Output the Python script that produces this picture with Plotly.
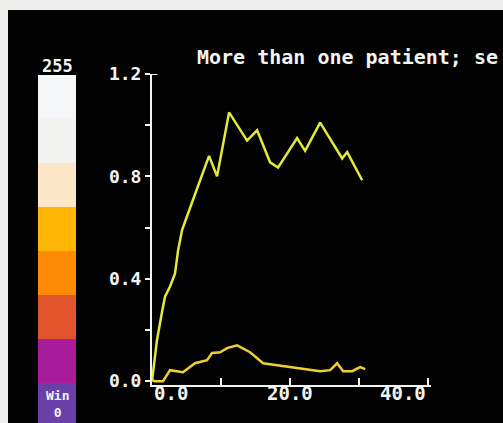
import plotly.graph_objects as go

W, H = 503, 423


def px(x):
    return x / W


def py(y):
    return 1 - y / H


# ---- data ----
upper_x = [0, 0.72, 1.45, 1.88, 2.61, 3.33, 3.77, 4.35, 6.23, 8.26, 9.42, 11.16,
           13.77, 15.22, 17.1, 18.26, 21.01, 22.17, 24.35, 27.54, 28.26, 30.43]
upper_y = [0.0, 0.16, 0.27, 0.33, 0.37, 0.42, 0.51, 0.59, 0.73, 0.88, 0.80, 1.05,
           0.94, 0.98, 0.855, 0.835, 0.95, 0.90, 1.01, 0.87, 0.895, 0.785]

lower_x = [0, 0.43, 1.59, 2.61, 4.49, 6.23, 7.97, 8.7, 9.86, 10.87, 12.32, 14.2,
           16.09, 18.12, 21.45, 24.35, 25.8, 26.81, 27.68, 28.99, 30.14, 30.87]
lower_y = [0.004, 0.0, 0.0, 0.043, 0.035, 0.07, 0.082, 0.11, 0.113, 0.129, 0.14, 0.113,
           0.07, 0.062, 0.05, 0.039, 0.043, 0.07, 0.039, 0.039, 0.055, 0.047]

y_tick_vals = [0, 0.2, 0.4, 0.6, 0.8, 1.0, 1.2]
y_tick_text = ["0.0", "", "0.4", "", "0.8", "", "1.2"]
x_tick_vals = [0, 10, 20, 30, 40]
x_label_vals = [0, 20, 40]
x_label_text = ["0.0", "20.0", "40.0"]

scale_colors = ["#6B3FA8", "#A81C9C", "#E2542C", "#FF8A06", "#FFB606",
                "#FCE6C8", "#F2F2F0", "#F4F6F8"]  # bottom -> top
scale_top_label = "255"
scale_bottom_label = "Win<br>0"
title_text = "More than one patient; se"

FONT = "DejaVu Sans Mono"
TXT = "#F2F4F2"
EDGE = "#EEEEEC"

fig = go.Figure()

fig.add_trace(go.Scatter(x=upper_x, y=upper_y, mode="lines",
                         line=dict(color="#E2EA3A", width=2.5), xaxis="x", yaxis="y"))
fig.add_trace(go.Scatter(x=lower_x, y=lower_y, mode="lines",
                         line=dict(color="#F0D030", width=2.5), xaxis="x", yaxis="y"))

bases = list(range(len(scale_colors)))
fig.add_trace(go.Bar(x=["cb"] * len(scale_colors), y=[1] * len(scale_colors), base=bases,
                     marker=dict(color=scale_colors, line=dict(width=0)), width=1,
                     xaxis="x2", yaxis="y2", hoverinfo="skip"))

annotations = [
    dict(text=f"<b>{title_text}</b>", x=px(195), y=py(57), xref="paper", yref="paper",
         xanchor="left", yanchor="middle", showarrow=False,
         font=dict(family=FONT, size=20, color=TXT)),
    dict(text=f"<b>{scale_top_label}</b>", x=px(57), y=py(66), xref="paper", yref="paper",
         xanchor="center", yanchor="middle", showarrow=False,
         font=dict(family=FONT, size=17, color=TXT)),
    dict(text=f"<b>{scale_bottom_label}</b>", x=px(57), y=py(422), xref="paper", yref="paper",
         xanchor="center", yanchor="bottom", showarrow=False,
         font=dict(family=FONT, size=13, color=TXT)),
]
anchors = ["left", "center", "right"]
for v, t, a in zip(x_label_vals, x_label_text, anchors):
    annotations.append(dict(text=f"<b>{t}</b>", x=v, y=py(393), xref="x", yref="paper",
                            xanchor=a, yanchor="middle", showarrow=False,
                            font=dict(family=FONT, size=19, color=TXT)))

shapes = [
    dict(type="rect", xref="paper", yref="paper", x0=0, x1=1, y0=py(10), y1=1,
         fillcolor=EDGE, line=dict(width=0), layer="below"),
    dict(type="rect", xref="paper", yref="paper", x0=0, x1=px(8), y0=0, y1=1,
         fillcolor=EDGE, line=dict(width=0), layer="below"),
    dict(type="line", xref="x", yref="y", x0=0, x1=0.8, y0=1.2, y1=1.2,
         line=dict(color=TXT, width=2)),
]

fig.update_layout(
    width=W, height=H, template="none",
    margin=dict(l=0, r=0, t=0, b=0),
    paper_bgcolor="#020203", plot_bgcolor="rgba(0,0,0,0)",
    showlegend=False,
    annotations=annotations, shapes=shapes,
    xaxis=dict(domain=[px(152), px(431)], range=[0, 40.4], showgrid=False, zeroline=False,
               showline=True, linecolor=TXT, linewidth=2,
               ticks="inside", ticklen=7, tickwidth=2, tickcolor=TXT,
               tickvals=x_tick_vals, showticklabels=False, anchor="y"),
    yaxis=dict(domain=[py(385), py(74)], range=[-0.015, 1.2], showgrid=False,
               zeroline=False, showline=True, linecolor=TXT, linewidth=2,
               ticks="outside", ticklen=5, tickwidth=2, tickcolor=TXT,
               tickvals=y_tick_vals, ticktext=y_tick_text,
               tickfont=dict(family=FONT, size=18, color=TXT, weight="bold"), anchor="x"),
    xaxis2=dict(domain=[px(38), px(76)], range=[-0.5, 0.5], visible=False, anchor="y2"),
    yaxis2=dict(domain=[0, py(75)], range=[0.1, 8], visible=False, anchor="x2"),
    bargap=0,
)

fig.write_html(
    "out.html",
    config={"displayModeBar": False},
    post_script="document.documentElement.style.margin='0';"
                "document.body.style.margin='0';"
                "document.documentElement.style.overflow='hidden';"
                "document.body.style.overflow='hidden';",
)
